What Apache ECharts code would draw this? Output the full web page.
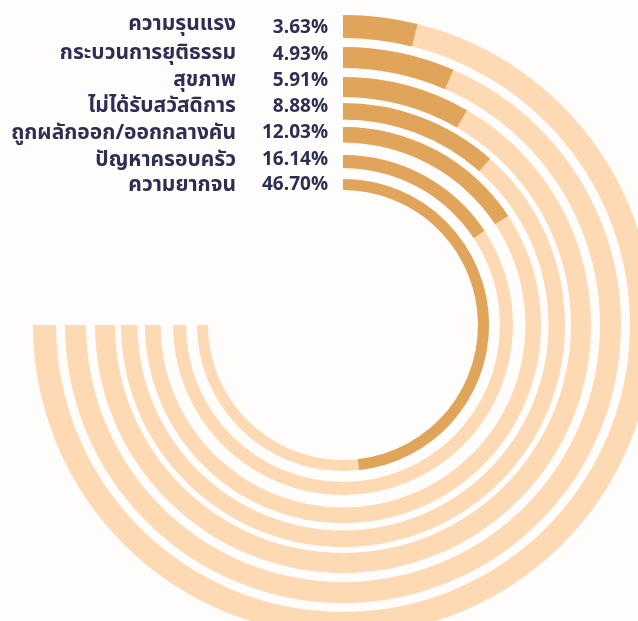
<!DOCTYPE html>
<html><head><meta charset="utf-8">
<script src="https://cdn.jsdelivr.net/npm/echarts@6/dist/echarts.min.js"></script>
<style>html,body{margin:0;padding:0;background:#fffdfc}#c{width:638px;height:621px}</style>
</head><body><div id="c"></div>
<script>
// categories, outermost ring first
const categories = ['ความรุนแรง','กระบวนการยุติธรรม','สุขภาพ','ไม่ได้รับสวัสดิการ','ถูกผลักออก/ออกกลางคัน','ปัญหาครอบครัว','ความยากจน'];
// values as labelled
const values = [3.63, 4.93, 5.91, 8.88, 12.03, 16.14, 46.70];
// arc extents as drawn in the picture (percent of a full circle)
const arcValues = [3.86, 6.5, 8.33, 11.53, 15.7, 15.64, 48.25];

// layout (px)
const center = [343, 325];
const ringOuter = [310, 278, 248, 222, 198, 170, 146];
const ringWidth = [23, 21, 20, 16.5, 15.5, 13, 11];
const nameY = [26, 55, 82, 108, 135, 162, 187];
const valueY = [29, 56, 82.5, 108.5, 134.5, 161.5, 186.5];
const dark = '#e1a45b', light = '#fdd9b4', ink = '#2c2f52';
const font = "'Noto Sans Thai','Noto Sans','Noto Sans CJK SC',sans-serif";

const chart = echarts.init(document.getElementById('c'), null, {renderer:'canvas'});
const series = categories.map((name, i) => ({
  type: 'gauge', name, center, radius: ringOuter[i],
  startAngle: 90, endAngle: -180, min: 0, max: 75, clockwise: true,
  axisLine: {lineStyle: {width: ringWidth[i], color: [[1, light]]}},
  progress: {show: true, width: ringWidth[i], roundCap: false, itemStyle: {color: dark}},
  pointer: {show: false}, anchor: {show: false}, axisTick: {show: false},
  splitLine: {show: false}, axisLabel: {show: false}, title: {show: false}, detail: {show: false},
  data: [{value: arcValues[i], name}], animation: false, silent: true
}));
const graphic = [];
categories.forEach((name, i) => {
  graphic.push({type: 'text', x: 236, y: nameY[i], style: {text: name, align: 'right', verticalAlign: 'middle',
    font: 'bold 21px ' + font, fill: ink}});
  graphic.push({type: 'text', x: 328, y: valueY[i], style: {text: values[i].toFixed(2) + '%', align: 'right', verticalAlign: 'middle',
    font: 'bold 19px ' + font, fill: ink}});
});
chart.setOption({backgroundColor: '#fffdfc', animation: false, series, graphic});
</script></body></html>
